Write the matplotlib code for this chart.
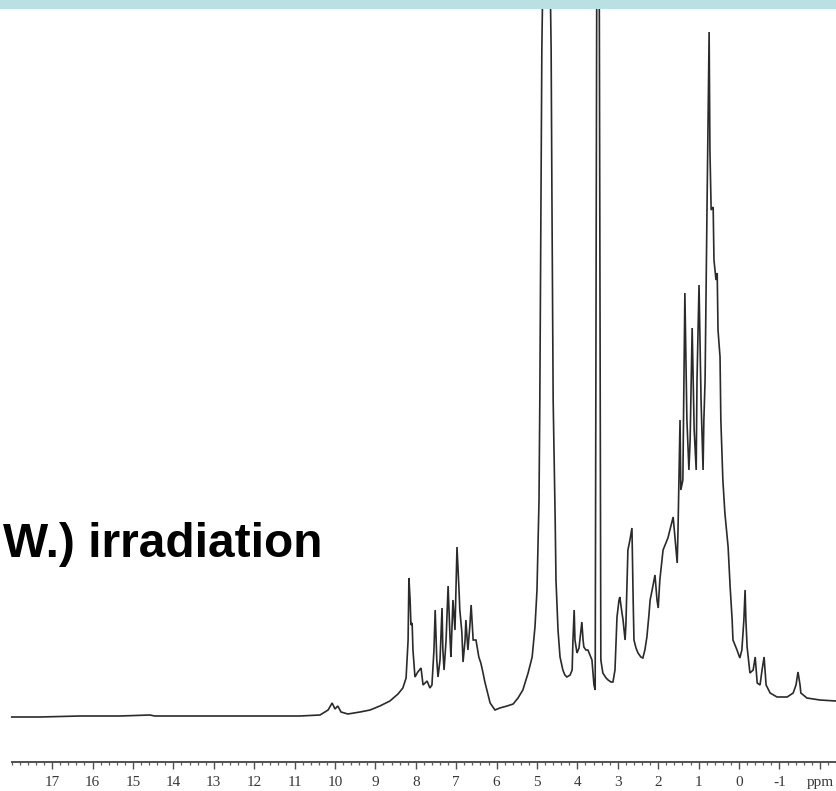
import numpy as np
import matplotlib
matplotlib.use("Agg")
import matplotlib.pyplot as plt
from matplotlib.patches import Rectangle

# 1H NMR trace (chemical shift in ppm, intensity in arbitrary units)
ppm = [18.00, 17.30, 16.31, 15.32, 14.58, 14.46, 13.34, 12.10, 10.87, 10.37,
       10.17, 10.07, 10.00, 9.93, 9.85, 9.68, 9.38, 9.13, 8.89, 8.64,
       8.44, 8.32, 8.24, 8.19, 8.17, 8.14, 8.12, 8.09, 8.07, 8.02,
       7.95, 7.87, 7.82, 7.72, 7.65, 7.60, 7.55, 7.52, 7.48, 7.45,
       7.40, 7.35, 7.33, 7.30, 7.25, 7.20, 7.15, 7.13, 7.08, 7.03,
       6.98, 6.93, 6.91, 6.86, 6.83, 6.78, 6.76, 6.71, 6.66, 6.63,
       6.58, 6.51, 6.44, 6.39, 6.34, 6.29, 6.24, 6.16, 6.04, 5.92,
       5.74, 5.59, 5.47, 5.35, 5.22, 5.12, 5.05, 5.00, 4.95, 4.93,
       4.90, 4.88, 4.83, 4.78, 4.70, 4.65, 4.63, 4.60, 4.55, 4.53,
       4.48, 4.43, 4.36, 4.31, 4.26, 4.18, 4.13, 4.11, 4.08, 4.06,
       4.01, 3.96, 3.91, 3.89, 3.86, 3.84, 3.79, 3.74, 3.69, 3.64,
       3.59, 3.56, 3.54, 3.51, 3.47, 3.44, 3.42, 3.37, 3.29, 3.24,
       3.17, 3.12, 3.07, 3.02, 2.97, 2.95, 2.90, 2.87, 2.82, 2.80,
       2.75, 2.70, 2.65, 2.62, 2.60, 2.55, 2.50, 2.43, 2.38, 2.33,
       2.28, 2.23, 2.20, 2.15, 2.08, 2.03, 2.00, 1.96, 1.88, 1.83,
       1.76, 1.71, 1.63, 1.58, 1.53, 1.51, 1.46, 1.44, 1.39, 1.34,
       1.29, 1.24, 1.21, 1.16, 1.11, 1.06, 1.04, 0.99, 0.94, 0.89,
       0.87, 0.84, 0.79, 0.74, 0.72, 0.69, 0.64, 0.62, 0.57, 0.54,
       0.52, 0.47, 0.45, 0.40, 0.35, 0.27, 0.22, 0.17, 0.15, 0.10,
       0.05, -0.02, -0.07, -0.12, -0.15, -0.17, -0.20, -0.27, -0.35, -0.40,
       -0.45, -0.52, -0.57, -0.62, -0.67, -0.77, -0.94, -1.19, -1.34, -1.41,
       -1.46, -1.51, -1.53, -1.68, -2.00, -2.40]
intensity = [0, 0, 1, 1, 2, 1, 1, 1, 1, 2,
             7, 14, 8, 11, 5, 3, 5, 7, 11, 16,
             23, 29, 39, 77, 139, 117, 92, 94, 67, 40,
             45, 49, 32, 36, 29, 32, 67, 107, 57, 40,
             57, 109, 67, 47, 77, 131, 77, 60, 117, 87,
             170, 127, 107, 85, 55, 77, 97, 67, 92, 112,
             77, 77, 60, 54, 45, 35, 27, 14, 7, 9,
             11, 13, 19, 27, 44, 60, 90, 127, 217, 317,
             517, 667, 817, 917, 817, 667, 517, 317, 197, 137,
             87, 60, 47, 42, 40, 42, 47, 77, 107, 77,
             64, 69, 87, 95, 77, 70, 67, 67, 62, 57,
             32, 27, 417, 917, 917, 417, 57, 44, 39, 37,
             35, 35, 47, 100, 117, 120, 105, 97, 77, 92,
             167, 177, 189, 117, 77, 69, 64, 60, 59, 67,
             80, 102, 117, 127, 142, 117, 109, 137, 167, 172,
             179, 187, 200, 177, 154, 187, 297, 227, 237, 424,
             297, 247, 277, 389, 287, 247, 337, 432, 317, 247,
             297, 337, 517, 685, 567, 507, 510, 457, 437, 444,
             387, 360, 297, 237, 204, 170, 130, 97, 77, 72,
             67, 59, 67, 97, 127, 97, 70, 44, 47, 60,
             34, 32, 47, 60, 32, 24, 20, 20, 24, 32,
             45, 32, 24, 19, 17, 16]

tick_ppm = [17, 16, 15, 14, 13, 12, 11, 10, 9, 8, 7, 6, 5, 4, 3, 2, 1, 0, -1, -2]
tick_labels = ['17', '16', '15', '14', '13', '12', '11', '10', '9', '8',
               '7', '6', '5', '4', '3', '2', '1', '0', '-1', 'ppm']
caption = "W.) irradiation"

fig = plt.figure(figsize=(8.36, 7.91), dpi=100)
ax = fig.add_axes([0, 0, 1, 1])
ax.plot(ppm, intensity, color='#2a2a2a', lw=1.2, solid_joinstyle='miter')
ax.set_xlim(18.29, -2.40)
ax.set_ylim(-74, 717)

# ppm ruler along the bottom
for s in ['top', 'left', 'right']:
    ax.spines[s].set_visible(False)
ax.spines['bottom'].set_position(('data', -45))
ax.spines['bottom'].set_bounds(18.0, -2.4)
ax.spines['bottom'].set_color('#505050')
ax.spines['bottom'].set_linewidth(1.4)
ax.set_yticks([])
ax.set_xticks(tick_ppm)
ax.set_xticklabels(tick_labels, family='Liberation Serif', fontsize=11, color='#383838')
ax.set_xticks(np.arange(18.0, -2.41, -0.2), minor=True)
ax.tick_params(axis='x', which='major', direction='out', length=5, width=1, color='#505050', pad=5)
ax.tick_params(axis='x', which='minor', direction='out', length=2.5, width=0.9, color='#606060')

fig.text(3 / 836, 1 - 557 / 791, caption, fontsize=34.5, fontweight='bold',
         family='Liberation Sans', va='baseline', ha='left')

fig.add_artist(Rectangle((0, 1 - 9 / 791), 1, 9 / 791, transform=fig.transFigure,
                         facecolor='#b9e0e2', edgecolor='none', zorder=10))

fig.savefig('out.png', dpi=100)
